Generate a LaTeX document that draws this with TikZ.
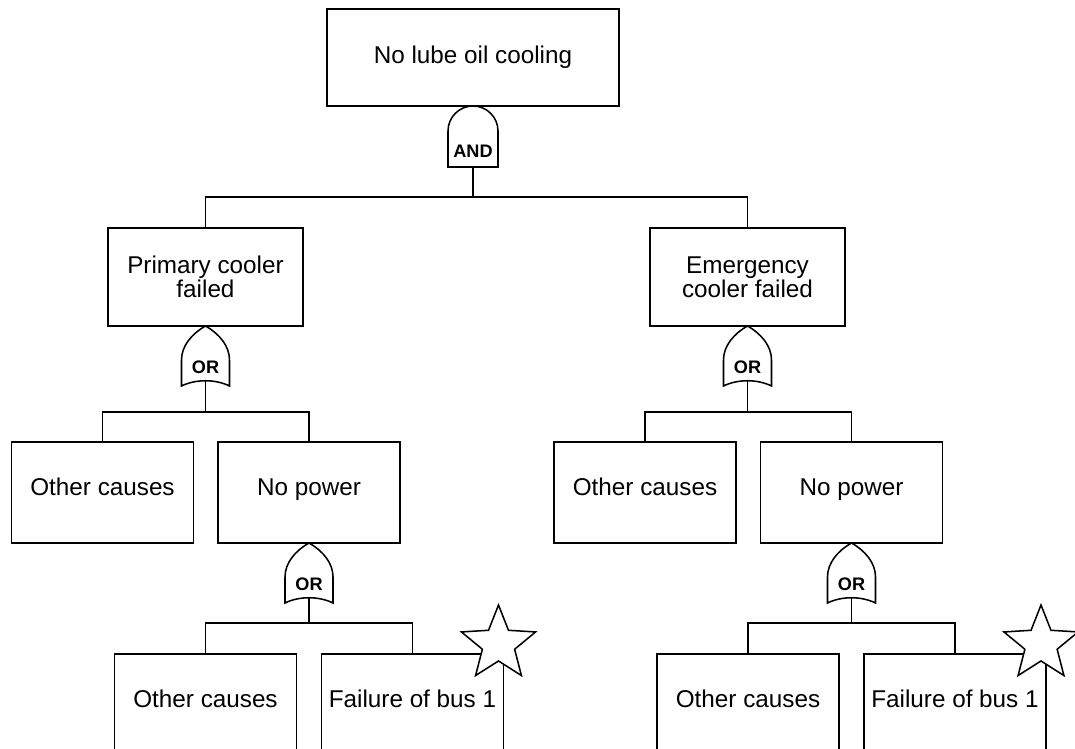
\documentclass[tikz,border=0pt]{standalone}
\usepackage{fontspec}
\setmainfont{Liberation Sans}
\usetikzlibrary{shapes.geometric,calc}
\begin{document}
\begin{tikzpicture}[x=0.75pt,y=-0.75pt,
  wire/.style={line width=1.15pt},
  box/.style={draw, line width=1.15pt, fill=white, inner sep=2pt, outer sep=0pt,
    align=center, font=\fontsize{18.2}{18}\selectfont,
    minimum width=136.5pt, minimum height=75.75pt},
  oneline/.style={box, text height=0.74em, text depth=0.26em},
  topbox/.style={box, minimum width=219pt, minimum height=72.75pt},
  midbox/.style={box, minimum width=146.25pt, minimum height=73.5pt},
  gatetext/.style={font=\bfseries\fontsize{13.6}{14}\selectfont, inner sep=0pt},
  event/.style={draw, line width=1.15pt, fill=white, star, star points=5,
    star point ratio=2.3, minimum size=58.5pt, inner sep=0pt, outer sep=0pt},
  andgate/.pic={
    \draw[wire, fill=white] (-25,61) -- (-25,25)
      .. controls (-25,11.2) and (-13.8,0) .. (0,0)
      .. controls (13.8,0) and (25,11.2) .. (25,25) -- (25,61) -- cycle;
    \node[gatetext] (-lbl) at (0,45) {AND};
    \coordinate (-out) at (0,61);
  },
  orgate/.pic={
    \draw[wire, fill=white] (0,0) .. controls (-14,8) and (-24,20) .. (-24,34)
      -- (-24,60) .. controls (-10,53) and (10,53) .. (24,60)
      -- (24,34) .. controls (24,20) and (14,8) .. (0,0) -- cycle;
    \node[gatetext] (-lbl) at (0,41) {OR};
    \coordinate (-out) at (0,55);
  }]

\clip (0,0) rectangle (1075,749);
\fill[white] (0,0) rectangle (1075,749);

% events
\node[topbox] (top) at (473,57.5) {No lube oil cooling};
\node[midbox] (pc) at (205.5,277) {Primary cooler\\failed};
\node[midbox] (ec) at (747.5,277) {Emergency\\cooler failed};

\node[oneline] (oc1) at (102.5,492.5) {Other causes};
\node[oneline] (np1) at (309,492.5) {No power};
\node[oneline] (oc2) at (645,492.5) {Other causes};
\node[oneline] (np2) at (851.5,492.5) {No power};

\node[oneline] (oc3) at (205.5,704.5) {Other causes};
\node[oneline] (fb1) at (412.5,704.5) {Failure of bus 1};
\node[oneline] (oc4) at (748,704.5) {Other causes};
\node[oneline] (fb2) at (955,704.5) {Failure of bus 1};

% gates
\pic (g0) at (top.south) {andgate};
\pic (g1) at (pc.south) {orgate};
\pic (g2) at (ec.south) {orgate};
\pic (g3) at (np1.south) {orgate};
\pic (g4) at (np2.south) {orgate};

% branch junctions
\coordinate (j0) at (473,197);
\coordinate (j1) at (205.5,412);
\coordinate (j2) at (747.5,412);
\coordinate (j3) at (309,623);
\coordinate (j4) at (851.5,623);

% connectors
\draw[wire] (g0-out) -- (j0);
\draw[wire] (pc.north) |- (j0) -| (ec.north);
\draw[wire] (g1-out) -- (j1);
\draw[wire] (oc1.north) |- (j1) -| (np1.north);
\draw[wire] (g2-out) -- (j2);
\draw[wire] (oc2.north) |- (j2) -| (np2.north);
\draw[wire] (g3-out) -- (j3);
\draw[wire] (oc3.north) |- (j3) -| (fb1.north);
\draw[wire] (g4-out) -- (j4);
\draw[wire] (oc4.north) |- (j4) -| (fb2.north);

% undeveloped events
\node[event] (s1) at ($(fb1.north east)+(-5,-10)$) {};
\node[event] (s2) at ($(fb2.north east)+(-5,-10)$) {};
\end{tikzpicture}
\end{document}
